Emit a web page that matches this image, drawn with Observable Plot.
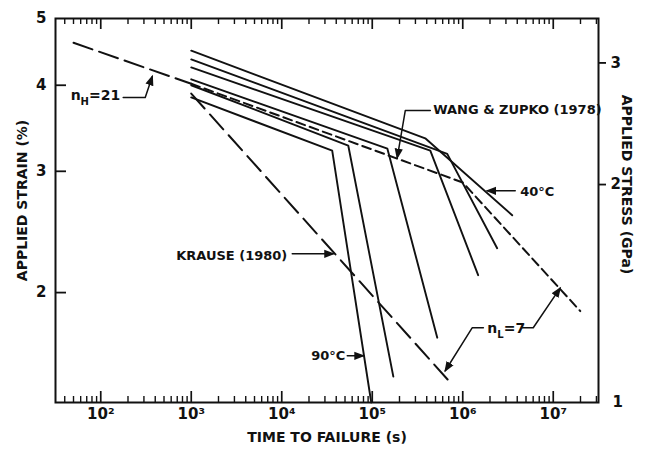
<!DOCTYPE html>
<html>
<head>
<meta charset="utf-8">
<script src="https://cdn.jsdelivr.net/npm/d3@7"></script>
<script src="https://cdn.jsdelivr.net/npm/@observablehq/plot@0.6"></script>
<style>
  html, body { margin: 0; padding: 0; background: #fff; }
  #chart { width: 647px; height: 450px; }
</style>
</head>
<body>
<div id="chart"></div>
<script>
// ---------- scales / ticks ----------
const xDomain = [10 ** 1.5, 10 ** 7.5];           // time to failure (s)
const yDomain = [1.385, 5];                        // applied strain (%)
const timeTicks = [1e2, 1e3, 1e4, 1e5, 1e6, 1e7];
const timeTickLabels = ["10²", "10³", "10⁴", "10⁵", "10⁶", "10⁷"];
const strainTicks = [2, 3, 4, 5];
const stressTickLabels = ["2", "3"];               // right axis (GPa)
const stressTickStrains = [2.87, 4.31];            // where those stress ticks sit on the strain axis
const stressBottomLabel = "1";

// ---------- solid rupture curves ----------
const curveNames = ["40°C", "curve 2", "curve 3", "curve 4", "curve 5", "90°C"];
const curveTimes = [
  [1e3, 3.85e5, 3.52e6],
  [1e3, 6.74e5, 2.40e6],
  [1e3, 4.38e5, 1.48e6],
  [1e3, 1.47e5, 5.23e5],
  [1e3, 5.43e4, 1.71e5],
  [1e3, 3.61e4, 9.75e4]
];
const curveStrains = [
  [4.49, 3.35, 2.59],
  [4.36, 3.18, 2.32],
  [4.245, 3.215, 2.12],
  [4.08, 3.236, 1.72],
  [4.00, 3.27, 1.51],
  [3.84, 3.215, 1.385]
];

// ---------- dashed model lines ----------
const nHTimes = [50, 1000];
const nHStrains = [4.61, 4.02];
const wangTimes = [1000, 1.0e6, 1.99e7];
const wangStrains = [4.02, 2.89, 1.88];
const krauseTimes = [1000, 7.66e5];
const krauseStrains = [3.89, 1.47];

// ---------- annotations ----------
const startLabelTexts = ["WANG & ZUPKO (1978)", "40°C"];
const startLabelTimes = [4.72e5, 4.32e6];
const startLabelStrains = [3.687, 2.80];
const endLabelTexts = ["KRAUSE (1980)", "90°C"];
const endLabelTimes = [11510, 50350];
const endLabelStrains = [2.262, 1.619];
const nHLabel = "nH=21", nHLabelTime = 164, nHLabelStrain = 3.865;
const nLLabel = "nL=7", nLLabelTime = 1.87e6, nLLabelStrain = 1.772;

const leaderNames = ["nH", "wang", "40C", "krause", "90C", "nL-left", "nL-right"];
const leaderTimes = [
  [177, 310, 371],
  [4.375e5, 2.317e5, 1.888e5],
  [3.80e6, 1.87e6],
  [13060, 37070],
  [52970, 79600],
  [1.69e6, 1.27e6, 6.41e5],
  [4.54e6, 6.01e6, 1.19e7]
];
const leaderStrains = [
  [3.84, 3.84, 4.12],
  [3.675, 3.675, 3.14],
  [2.81, 2.81],
  [2.277, 2.277],
  [1.619, 1.619],
  [1.778, 1.778, 1.54],
  [1.778, 1.778, 2.03]
];

// ---------- tables built from the arrays ----------
const toRows = (names, times, strains) =>
  names.flatMap((name, i) => times[i].map((t, j) => ({name, time: t, strain: strains[i][j]})));
const pts = (times, strains) => times.map((t, j) => ({time: t, strain: strains[j]}));

const curves = toRows(curveNames, curveTimes, curveStrains);
const leaders = toRows(leaderNames, leaderTimes, leaderStrains);
const nHLine = pts(nHTimes, nHStrains);
const wangLine = pts(wangTimes, wangStrains);
const krauseLine = pts(krauseTimes, krauseStrains);
const startLabels = startLabelTexts.map((s, i) => ({s, time: startLabelTimes[i], strain: startLabelStrains[i]}));
const endLabels = endLabelTexts.map((s, i) => ({s, time: endLabelTimes[i], strain: endLabelStrains[i]}));

const minorTimes = d3.range(1, 8)
  .flatMap(e => d3.range(2, 10).map(m => m * 10 ** e))
  .filter(t => t > xDomain[0] && t < xDomain[1]);

const stressLabelOf = new Map(stressTickStrains.map((v, i) => [v, stressTickLabels[i]]));
const timeLabelOf = new Map(timeTicks.map((v, i) => [v, timeTickLabels[i]]));

const W = 647, H = 450, mT = 18, mR = 49, mB = 48, mL = 55;
const frameH = H - mT - mB, frameW = W - mL - mR;
const ink = "#111";

const chart = Plot.plot({
  width: W, height: H,
  marginTop: mT, marginRight: mR, marginBottom: mB, marginLeft: mL,
  x: {type: "log", domain: xDomain},
  y: {type: "log", domain: yDomain},
  style: {background: "#fff", color: ink, fontFamily: "'DejaVu Sans', sans-serif", fontSize: "14px", fontWeight: "bold"},
  marks: [
    Plot.frame({stroke: ink, fill: "none", strokeWidth: 2}),
    // inward ticks (bottom, top, left)
    Plot.ruleX(minorTimes, {x: d => d, insetTop: frameH - 6, stroke: ink, strokeWidth: 1.4}),
    Plot.ruleX(timeTicks, {x: d => d, insetTop: frameH - 11, stroke: ink, strokeWidth: 1.7}),
    Plot.ruleX(minorTimes, {x: d => d, insetBottom: frameH - 6, stroke: ink, strokeWidth: 1.4}),
    Plot.ruleX(timeTicks, {x: d => d, insetBottom: frameH - 11, stroke: ink, strokeWidth: 1.7}),
    Plot.ruleY(strainTicks.slice(0, 3), {y: d => d, insetRight: frameW - 11, stroke: ink, strokeWidth: 1.8}),
    // tick labels
    Plot.axisX({anchor: "bottom", ticks: timeTicks, tickSize: 0, tickPadding: 6,
      tickFormat: d => timeLabelOf.get(d), label: null, fontSize: 15}),
    Plot.axisY({anchor: "left", ticks: strainTicks, tickSize: 0, tickPadding: 9,
      tickFormat: d => String(d), label: null, fontSize: 15}),
    Plot.axisY({anchor: "right", ticks: stressTickStrains, tickSize: 7, tickPadding: 5,
      tickFormat: d => stressLabelOf.get(d), label: null, fontSize: 15, strokeWidth: 1.8}),
    Plot.axisY({anchor: "right", ticks: [yDomain[0]], tickSize: 0, tickPadding: 14,
      tickFormat: () => stressBottomLabel, label: null, fontSize: 15}),
    // axis titles
    Plot.text(["TIME TO FAILURE (s)"], {frameAnchor: "bottom", textAnchor: "middle", lineAnchor: "middle",
      dy: 35, fontSize: 14, fontWeight: "bold", letterSpacing: "0.5px"}),
    Plot.text(["APPLIED STRAIN (%)"], {frameAnchor: "left", textAnchor: "middle", lineAnchor: "middle",
      dx: -33, dy: -10, rotate: -90, fontSize: 14, fontWeight: "bold", letterSpacing: "0.8px"}),
    Plot.text(["APPLIED STRESS (GPa)"], {frameAnchor: "right", textAnchor: "middle", lineAnchor: "middle",
      dx: 28, dy: -26, rotate: 90, fontSize: 14, fontWeight: "bold", letterSpacing: "0.8px"}),
    // data: solid curves
    Plot.line(curves, {x: "time", y: "strain", z: "name", stroke: ink, strokeWidth: 1.9}),
    // dashed model lines
    Plot.line(nHLine, {x: "time", y: "strain", stroke: ink, strokeWidth: 2, strokeDasharray: "20,7"}),
    Plot.line(wangLine, {x: "time", y: "strain", stroke: ink, strokeWidth: 2, strokeDasharray: "9,5"}),
    Plot.line(krauseLine, {x: "time", y: "strain", stroke: ink, strokeWidth: 2, strokeDasharray: "20,8"}),
    // leaders with arrowheads
    Plot.line(leaders, {x: "time", y: "strain", z: "name", stroke: ink, strokeWidth: 1.5, markerEnd: "arrow"}),
    // labels
    Plot.text(startLabels, {x: "time", y: "strain", text: "s", textAnchor: "start", fontSize: 13, fontWeight: "bold"}),
    Plot.text(endLabels, {x: "time", y: "strain", text: "s", textAnchor: "end", fontSize: 13, fontWeight: "bold"}),
    Plot.text([nHLabel], {x: () => nHLabelTime, y: () => nHLabelStrain, text: d => d, textAnchor: "end", fontSize: 14, fontWeight: "bold"}),
    Plot.text([nLLabel], {x: () => nLLabelTime, y: () => nLLabelStrain, text: d => d, textAnchor: "start", fontSize: 14, fontWeight: "bold"})
  ]
});

// subscripts for n_H and n_L
d3.select(chart).selectAll("text")
  .filter(function () { return /^n[HL]=/.test(this.textContent); })
  .each(function () {
    const t = d3.select(this);
    const s = t.text();
    t.text(null);
    t.append("tspan").text(s[0]);
    t.append("tspan").attr("dy", 5).attr("font-size", "10px").text(s[1]);
    t.append("tspan").attr("dy", -5).text(s.slice(2));
  });

// filled arrowheads
d3.select(chart).selectAll("marker").each(function () {
  const m = d3.select(this);
  m.attr("markerWidth", 12).attr("markerHeight", 12)
   .attr("fill", ink).attr("stroke", "none");
  m.selectAll("path").attr("d", "M-5,-2.3L1,0L-5,2.3Z");
});

document.getElementById("chart").append(chart);
</script>
</body>
</html>
